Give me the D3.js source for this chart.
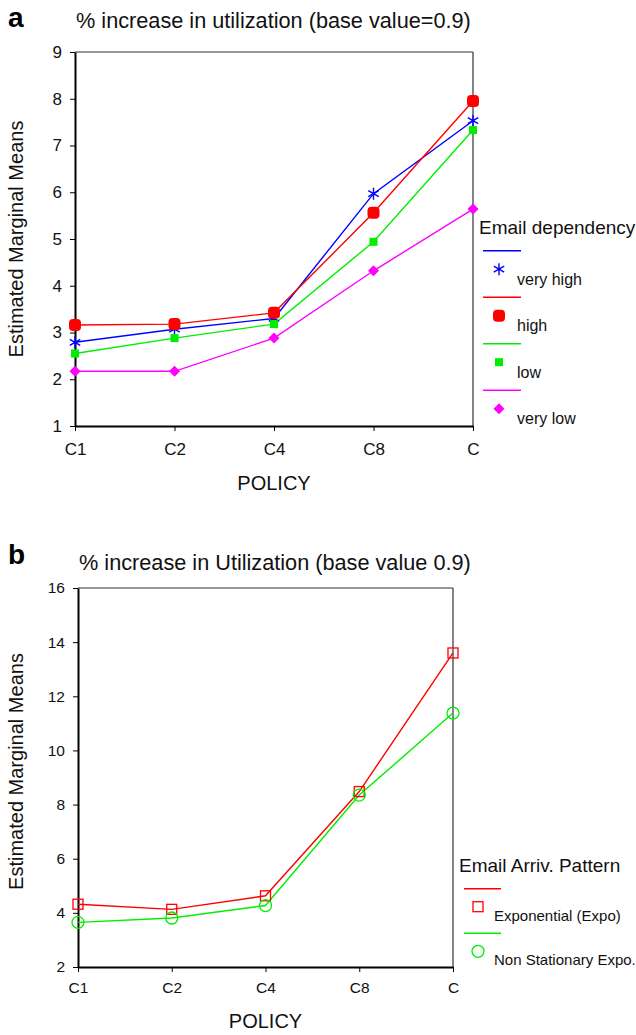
<!DOCTYPE html>
<html>
<head>
<meta charset="utf-8">
<script src="https://cdn.jsdelivr.net/npm/d3@7"></script>
<style>
  body { margin: 0; background: #fff; }
  svg { display: block; font-family: "Liberation Sans", Arial, sans-serif; }
</style>
</head>
<body>
<svg width="636" height="1035"></svg>
<script>
// data
var policies = ["C1", "C2", "C4", "C8", "C"];

var depNames = ["very high", "high", "low", "very low"];
var depColors = ["#0000ff", "#ff0000", "#00ee00", "#ff00ff"];
var veryHigh = [2.79, 3.07, 3.30, 5.97, 7.53];
var high     = [3.16, 3.18, 3.42, 5.56, 7.95];
var low      = [2.55, 2.88, 3.18, 4.94, 7.33];
var veryLow  = [2.17, 2.17, 2.88, 4.32, 5.64];
var ticksA = [1, 2, 3, 4, 5, 6, 7, 8, 9];

var arrNames = ["Exponential (Expo)", "Non Stationary Expo."];
var arrColors = ["#ff0000", "#00ee00"];
var expo      = [4.32, 4.13, 4.63, 8.48, 13.6];
var nonStat   = [3.65, 3.81, 4.27, 8.35, 11.38];
var ticksB = [2, 4, 6, 8, 10, 12, 14, 16];

var svg = d3.select("svg");

// symbol drawers
function asterisk(g, c) {
  var r = 6;
  g.append("path")
    .attr("d", "M0," + (-r) + "L0," + r +
      "M" + (-r * 0.87) + "," + (-r * 0.5) + "L" + (r * 0.87) + "," + (r * 0.5) +
      "M" + (-r * 0.87) + "," + (r * 0.5) + "L" + (r * 0.87) + "," + (-r * 0.5))
    .attr("stroke", c).attr("stroke-width", 1.4).attr("fill", "none");
}
function blob(g, c) {
  g.append("rect").attr("x", -6).attr("y", -6).attr("width", 12).attr("height", 12)
    .attr("rx", 4).attr("fill", c);
}
function smallSquare(g, c) {
  g.append("rect").attr("x", -4).attr("y", -4).attr("width", 8).attr("height", 8).attr("fill", c);
}
function diamond(g, c) {
  g.append("path").attr("d", "M0,-5.5L5.5,0L0,5.5L-5.5,0Z").attr("fill", c);
}
function openSquare(g, c) {
  g.append("rect").attr("x", -5).attr("y", -5).attr("width", 10).attr("height", 10)
    .attr("fill", "none").attr("stroke", c).attr("stroke-width", 1.3);
}
function openCircle(g, c) {
  g.append("circle").attr("r", 6).attr("fill", "none").attr("stroke", c).attr("stroke-width", 1.3);
}

function panel(opt) {
  var x = d3.scalePoint().domain(policies).range([opt.left, opt.right]);
  var y = d3.scaleLinear().domain(opt.domain).range([opt.bottom, opt.top]);
  var g = svg.append("g");

  g.append("text").attr("x", 8).attr("y", opt.letterY).attr("font-size", 28)
    .attr("font-weight", "bold").text(opt.letter);
  g.append("text").attr("x", opt.left + 1).attr("y", opt.titleY).attr("font-size", 21.7)
    .attr("fill", "#111").text(opt.title);

  // frame top and right
  g.append("line").attr("x1", opt.left).attr("x2", opt.right).attr("y1", opt.top).attr("y2", opt.top)
    .attr("stroke", "#333").attr("stroke-width", 1.2);
  g.append("line").attr("x1", opt.right).attr("x2", opt.right).attr("y1", opt.top).attr("y2", opt.bottom)
    .attr("stroke", "#333").attr("stroke-width", 1.2);

  var ya = g.append("g").attr("transform", "translate(" + opt.left + ",0)")
    .call(d3.axisLeft(y).tickValues(opt.ticks).tickSize(5).tickPadding(8).tickSizeOuter(0));
  ya.attr("font-family", null).attr("font-size", opt.tickSize);
  ya.select(".domain").attr("stroke", "#000").attr("stroke-width", 2);
  ya.selectAll("text").style("font-size", opt.tickSize + "px").attr("fill", "#111");

  var xa = g.append("g").attr("transform", "translate(0," + opt.bottom + ")")
    .call(d3.axisBottom(x).tickSize(5).tickPadding(opt.xPad).tickSizeOuter(0));
  xa.attr("font-family", null).attr("font-size", opt.tickSize);
  xa.select(".domain").attr("stroke", "#000").attr("stroke-width", 2);
  xa.selectAll("text").style("font-size", opt.tickSize + "px").attr("fill", "#111");

  g.append("text").attr("x", (opt.left + opt.right) / 2).attr("y", opt.bottom + opt.policyDy)
    .attr("text-anchor", "middle").attr("font-size", 20).attr("fill", "#111").text("POLICY");
  g.append("text").attr("transform", "translate(23," + ((opt.top + opt.bottom) / 2 + opt.labelShift) + ") rotate(-90)")
    .attr("text-anchor", "middle").attr("font-size", 20).attr("fill", "#111").text("Estimated Marginal Means");

  var line = d3.line().x(function(d, i) { return x(policies[i]); }).y(function(d) { return y(d); });

  opt.series.forEach(function(s, k) {
    g.append("path").attr("d", line(s)).attr("fill", "none")
      .attr("stroke", opt.colors[k]).attr("stroke-width", 1.4);
  });
  opt.series.forEach(function(s, k) {
    s.forEach(function(v, i) {
      var m = g.append("g").attr("transform", "translate(" + x(policies[i]) + "," + y(v) + ")");
      opt.symbols[k](m, opt.colors[k]);
    });
  });

  // legend
  var lg = g.append("g");
  lg.append("text").attr("x", opt.leg.x).attr("y", opt.leg.y).attr("font-size", opt.leg.titleSize)
    .attr("fill", "#111").text(opt.legTitle);
  opt.names.forEach(function(n, k) {
    var yy = opt.leg.y + opt.leg.first + k * opt.leg.step;
    lg.append("line").attr("x1", opt.leg.x + opt.leg.lx0).attr("x2", opt.leg.x + opt.leg.lx1)
      .attr("y1", yy).attr("y2", yy).attr("stroke", opt.colors[k]).attr("stroke-width", 1.4);
    var m = lg.append("g").attr("transform", "translate(" + (opt.leg.x + opt.leg.mx) + "," + (yy + opt.leg.my) + ")");
    opt.symbols[k](m, opt.colors[k]);
    lg.append("text").attr("x", opt.leg.x + opt.leg.tx).attr("y", yy + opt.leg.ty)
      .attr("font-size", opt.leg.textSize).attr("fill", "#111").text(n);
  });
}

panel({
  letter: "a", letterY: 27, titleY: 28,
  title: "% increase in utilization (base value=0.9)",
  left: 75, right: 473, top: 52, bottom: 426,
  domain: [1, 9], ticks: ticksA, tickSize: 17, xPad: 12, policyDy: 64, labelShift: 0,
  series: [veryHigh, high, low, veryLow],
  colors: depColors,
  symbols: [asterisk, blob, smallSquare, diamond],
  names: depNames,
  legTitle: "Email dependency",
  leg: { x: 479, y: 234, titleSize: 19, first: 16.7, step: 46.5,
         lx0: 4, lx1: 42, mx: 20, my: 18.5, tx: 38, ty: 34, textSize: 16 }
});

panel({
  letter: "b", letterY: 564, titleY: 570,
  title: "% increase in Utilization (base value 0.9)",
  left: 78, right: 453, top: 588, bottom: 967,
  domain: [2, 16], ticks: ticksB, tickSize: 15.5, xPad: 10, policyDy: 61, labelShift: -6,
  series: [expo, nonStat],
  colors: arrColors,
  symbols: [openSquare, openCircle],
  names: arrNames,
  legTitle: "Email Arriv. Pattern",
  leg: { x: 459, y: 872, titleSize: 19, first: 16.7, step: 44.6,
         lx0: 5, lx1: 42, mx: 19, my: 18, tx: 35, ty: 32, textSize: 15 }
});
</script>
</body>
</html>
